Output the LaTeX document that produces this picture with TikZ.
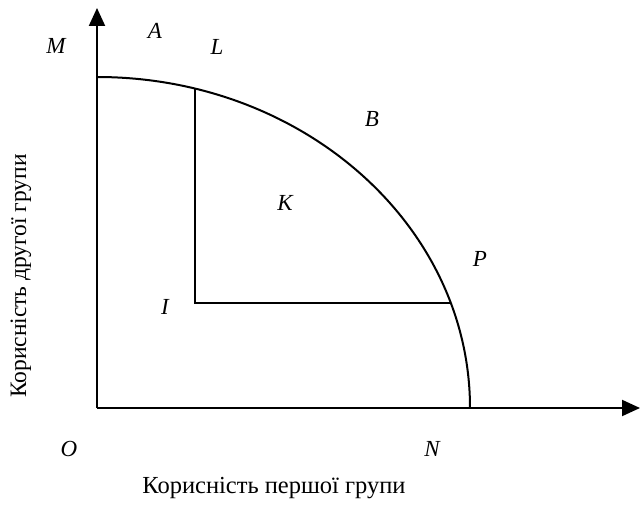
\documentclass[tikz,border=0pt]{standalone}
\usepackage{fontspec}
\setmainfont{Liberation Serif}
\usetikzlibrary{arrows.meta}
\tikzset{
  axis/.style={-{Triangle[length=18pt,width=16pt]}, line width=2pt},
  curve/.style={line width=2pt},
  pt/.style={font=\fontsize{23}{28}\selectfont\itshape, inner sep=0pt},
  axlabel/.style={font=\fontsize{24.5}{28}\selectfont, inner sep=0pt},
}
\begin{document}
\begin{tikzpicture}[x=1pt,y=1pt]
  \useasboundingbox (0,0) rectangle (640,504);
  % axes
  \coordinate (o) at (97,96);
  \coordinate (ytip) at (97,496);
  \coordinate (xtip) at (640,96);
  \draw[axis] (o) -- (ytip);
  \draw[axis] (o) -- (xtip);
  % frontier
  \coordinate (m) at (97,427);
  \coordinate (n) at (470,96);
  \draw[curve] (m) arc[start angle=90, end angle=0, x radius=373, y radius=331];
  % the box from I
  \coordinate (i) at (195,201);
  \coordinate (l) at (195,415);
  \coordinate (p) at (451,201);
  \draw[curve] (l) -- (i) -- (p);
  % labels
  \node[pt] (labM) at (56,458) {M};
  \node[pt] (labA) at (155,473) {A};
  \node[pt] (labL) at (217,457) {L};
  \node[pt] (labB) at (372,385) {B};
  \node[pt] (labK) at (285,301) {K};
  \node[pt] (labP) at (480,245) {P};
  \node[pt] (labI) at (165,197) {I};
  \node[pt] (labO) at (69,55) {O};
  \node[pt] (labN) at (432,55) {N};
  \node[axlabel] (xlab) at (274,16) {Корисність першої групи};
  \node[axlabel, rotate=90, font=\fontsize{23.5}{28}\selectfont] (ylab) at (21,228) {Корисність другої групи};
\end{tikzpicture}
\end{document}
